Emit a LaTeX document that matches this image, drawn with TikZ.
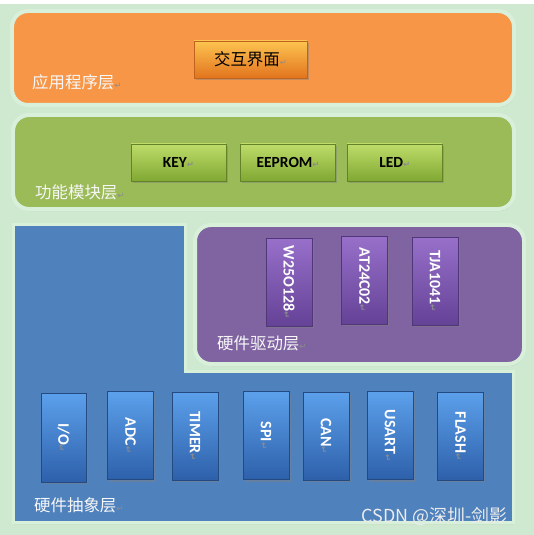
\documentclass[tikz,border=0pt]{standalone}
\usepackage{fontspec}
\setmainfont{Carlito}
\newfontfamily\cjk{Noto Sans CJK SC}
\newfontfamily\symf{DejaVu Sans}
\usetikzlibrary{positioning,shadows}
\definecolor{bggreen}{RGB}{206,233,208}
\definecolor{rim}{RGB}{216,239,218}
\definecolor{appfill}{RGB}{247,150,70}
\definecolor{modfill}{RGB}{155,187,89}
\definecolor{drvfill}{RGB}{128,100,162}
\definecolor{halfill}{RGB}{79,129,189}
\newcommand\pmark{{\symf\fontsize{8.5}{8.5}\selectfont\color{gray!90}↵}}
\tikzset{
  layer/.style={draw=rim, line width=4bp, rounded corners=16bp,
    drop shadow={shadow xshift=1bp, shadow yshift=-2bp, opacity=0.3}},
  layername/.style={anchor=west, inner sep=0pt, text=white!94!gray,
    font=\cjk\fontsize{16.5}{16.5}\selectfont},
  btn/.style={inner sep=0pt, line width=0.6bp,
    drop shadow={shadow xshift=1.5bp, shadow yshift=-2bp, opacity=0.45}},
  hbtn/.style={btn, minimum width=95bp, minimum height=37bp},
  vbtn/.style={btn, minimum width=46bp, minimum height=88bp},
  orangebtn/.style={draw={rgb,255:red,190;green,100;blue,30},
    top color={rgb,255:red,253;green,196;blue,80},
    middle color={rgb,255:red,247;green,142;blue,40},
    bottom color={rgb,255:red,226;green,116;blue,30}},
  greenbtn/.style={draw={rgb,255:red,100;green,130;blue,40},
    top color={rgb,255:red,190;green,220;blue,105},
    middle color={rgb,255:red,160;green,200;blue,70},
    bottom color={rgb,255:red,128;green,168;blue,50}},
  purplebtn/.style={draw={rgb,255:red,80;green,55;blue,120},
    top color={rgb,255:red,152;green,112;blue,202},
    middle color={rgb,255:red,126;green,86;blue,180},
    bottom color={rgb,255:red,100;green,66;blue,150}},
  bluebtn/.style={draw={rgb,255:red,35;green,75;blue,130},
    top color={rgb,255:red,92;green,160;blue,235},
    middle color={rgb,255:red,62;green,126;blue,210},
    bottom color={rgb,255:red,46;green,96;blue,170}},
  btntext/.style={inner sep=0pt, text=black, font=\bfseries\fontsize{15.5}{15.5}\selectfont},
  vtext/.style={rotate=-90, inner sep=0pt, text=white, font=\bfseries\fontsize{16}{16}\selectfont}
}

\begin{document}
\begin{tikzpicture}[x=1bp, y=-1bp]
  \useasboundingbox (0,0) rectangle (534,535);
  \fill[bggreen] (0,4) rectangle (534,535);

  % hardware abstraction layer (L shape) and driver layer
  \draw[layer, rounded corners=0pt, line width=3bp, fill=halfill]
    (13,224) -- (185,224) -- (185,371) -- (513,371) -- (513,522) -- (13,522) -- cycle;
  \node[layer, fill=drvfill, minimum width=329bp, minimum height=139bp] (drv) at (359.5,294.5) {};

  % application layer and module layer
  \node[layer, fill=appfill, minimum width=502bp, minimum height=94bp] (app) at (263,58) {};
  \node[layer, fill=modfill, minimum width=501bp, minimum height=94bp] (mod) at (263.5,162) {};

  \node[layername] (appname) at (32,82) {应用程序层\pmark};
  \node[layername] (modname) at (35,192) {功能模块层\pmark};
  \node[layername] (drvname) at (217,343) {硬件驱动层\pmark};
  \node[layername] (halname) at (34,505) {硬件抽象层\pmark};

  % application
  \node[hbtn, orangebtn, minimum width=113bp] (ui) at (250.5,59.5) {};
  \node[btntext, font=\cjk\fontsize{16.5}{16.5}\selectfont] (uil) at (ui) {交互界面\pmark};

  % modules
  \node[hbtn, greenbtn] (key) at (178.5,162.5) {};
  \node[hbtn, greenbtn, right=14bp of key] (eeprom) {};
  \node[hbtn, greenbtn, right=11bp of eeprom] (led) {};
  \node[btntext] (keyl) at (key) {KEY\pmark};
  \node[btntext] (eeproml) at (eeprom) {EEPROM\pmark};
  \node[btntext] (ledl) at (led) {LED\pmark};

  % drivers
  \node[vbtn, purplebtn] (w25) at (289,282) {};
  \node[vbtn, purplebtn] (at24) at (364.5,280) {};
  \node[vbtn, purplebtn] (tja) at (435,281) {};
  \node[vtext] (w25l) at (w25) {W25O128\pmark};
  \node[vtext] (at24l) at (at24) {AT24C02\pmark};
  \node[vtext] (tjal) at (tja) {TJA1041\pmark};

  % peripherals
  \node[vbtn, bluebtn, minimum width=45bp, minimum height=89bp] (io) at (63.5,437.5) {};
  \node[vbtn, bluebtn] (adc) at (130.5,435.5) {};
  \node[vbtn, bluebtn] (timer) at (195,436) {};
  \node[vbtn, bluebtn] (spi) at (266,435.5) {};
  \node[vbtn, bluebtn] (can) at (326,436) {};
  \node[vbtn, bluebtn] (usart) at (390,435.5) {};
  \node[vbtn, bluebtn] (flash) at (460.5,436) {};
  \node[vtext] (iol) at (io) {I/O\pmark};
  \node[vtext] (adcl) at (adc) {ADC\pmark};
  \node[vtext] (timerl) at (timer) {TIMER\pmark};
  \node[vtext] (spil) at (spi) {SPI\pmark};
  \node[vtext] (canl) at (can) {CAN\pmark};
  \node[vtext] (usartl) at (usart) {USART\pmark};
  \node[vtext] (flashl) at (flash) {FLASH\pmark};

  \node[anchor=east, inner sep=0pt, text=white!85!gray,
    font=\cjk\fontsize{18}{18}\selectfont] (mark) at (508,516) {CSDN @深圳-剑影};
\end{tikzpicture}
\end{document}
